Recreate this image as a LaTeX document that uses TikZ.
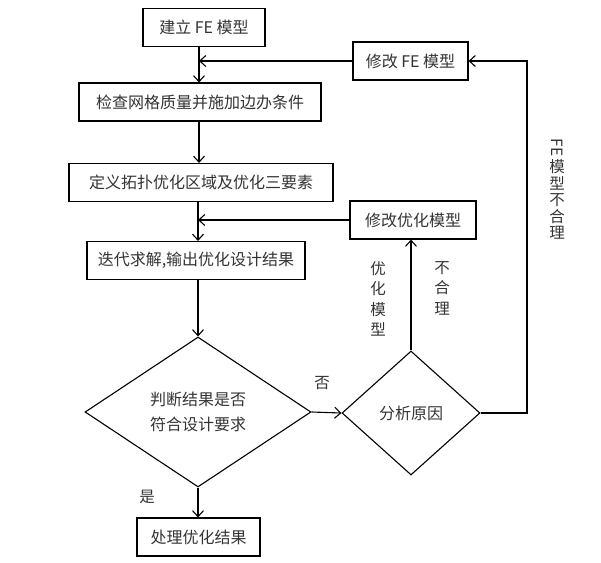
\documentclass[tikz,border=0pt]{standalone}
\usepackage{fontspec}
\setmainfont{Noto Sans CJK SC}
\usepackage{graphicx}
\usepackage{tikz}
\usetikzlibrary{positioning, arrows.meta, shapes.geometric}

\begin{document}
\begin{tikzpicture}[
            x=1pt, y=-1pt,
            box/.style={draw=black, line width=1.1pt, text=black!80, align=center, font=\fontsize{16}{18}\selectfont, minimum height=38pt, inner sep=0pt},
            choice/.style={draw=black, diamond, line width=1.1pt, text=black!80, align=center, font=\fontsize{16}{25}\selectfont, inner sep=0pt},
            arrow/.style={-{Straight Barb[length=6pt, width=11pt]}, line width=1.1pt},
            tag/.style={text=black!80, align=center, font=\fontsize{15.5}{20.5}\selectfont, inner sep=0pt}
        ]
            \useasboundingbox (0,0) rectangle (601,562);

            % Main column
            \node[box, minimum width=122pt] at (204, 27.5) (build) {建立 FE 模型};
            \node[box, minimum width=242pt] at (200, 102) (check) {检查网格质量并施加边办条件};
            \node[box, minimum width=264pt] at (201, 182.5) (define) {定义拓扑优化区域及优化三要素};
            \node[box, minimum width=218pt] at (196, 260.5) (solve) {迭代求解,输出优化设计结果};
            \node[choice, minimum width=226pt, minimum height=150pt] at (198, 412) (judge) {判断结果是否\\符合设计要求};
            \node[box, minimum width=123pt] at (198.5, 537) (result) {处理优化结果};

            % Right side
            \node[box, minimum width=115pt] at (410.5, 61) (modfe) {修改 FE 模型};
            \node[box, minimum width=126pt] at (413, 220) (modopt) {修改优化模型};
            \node[choice, minimum width=138pt, minimum height=124pt] at (411, 413) (reason) {分析原因};
            \coordinate (loop) at (527, 413);

            % Arrows down the main column
            \draw[arrow] (build.south -| 199,0) -- (check.north -| 199,0);
            \draw[arrow] (check.south -| 199,0) -- (define.north -| 199,0);
            \draw[arrow] (define.south -| 198,0) -- (solve.north -| 198,0);
            \draw[arrow] (solve.south -| 198,0) -- (judge.north);
            \draw[arrow] (judge.south) -- (result.north -| judge.south);
            \draw[arrow] (judge.east) -- (reason.west);

            % Feedback loops
            \draw[arrow] (modfe.west) -- (modfe.west -| 199,0);
            \draw[arrow] (modopt.west) -- (modopt.west -| 198,0);
            \draw[arrow] (reason.north) -- (modopt.south -| reason.north);
            \draw[arrow] (reason.east) -- (loop) |- (modfe.east);

            % Labels
            \node[tag] at (322, 383) (no) {否};
            \node[tag] at (147, 497) (yes) {是};
            \node[tag] at (378, 299) (optmodel) {优\\化\\模\\型};
            \node[tag] at (442, 288) (unfit) {不\\合\\理};
            \node[tag, font=\fontsize{15.5}{16.5}\selectfont] at (557, 189) (feunfit) {\rotatebox[origin=c]{-90}{FE}\\[3pt]模\\型\\不\\合\\理};

        \end{tikzpicture}
\end{document}
